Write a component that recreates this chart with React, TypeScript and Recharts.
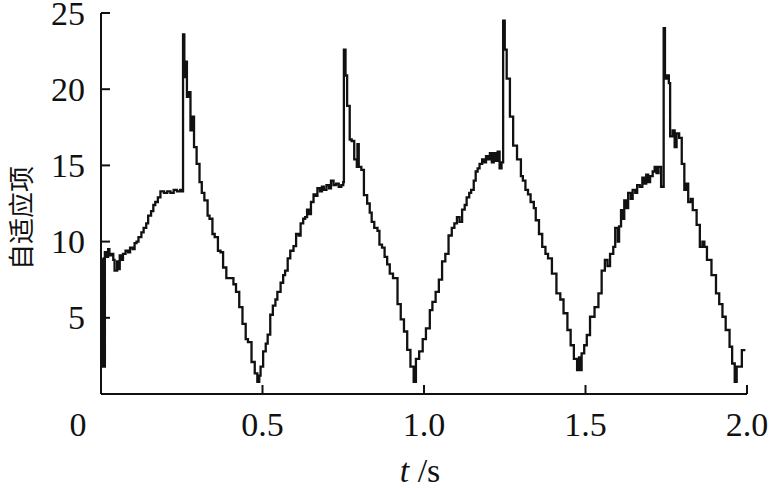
import { LineChart, Line, XAxis, YAxis } from 'recharts'

// sampled time (s)
const times = [
  0.005, 0.006, 0.012, 0.018, 0.022, 0.026, 0.032, 0.038, 0.042, 0.05, 0.054, 0.058, 0.064, 0.068, 0.076, 0.084,
  0.09, 0.098, 0.104, 0.11, 0.116, 0.125, 0.132, 0.14, 0.146, 0.155, 0.162, 0.168, 0.176, 0.184, 0.195, 0.205,
  0.215, 0.225, 0.235, 0.245, 0.25, 0.254, 0.258, 0.262, 0.266, 0.272, 0.277, 0.282, 0.288, 0.296, 0.305, 0.312,
  0.32, 0.33, 0.336, 0.345, 0.352, 0.362, 0.37, 0.378, 0.388, 0.4, 0.41, 0.418, 0.428, 0.438, 0.448, 0.455,
  0.466, 0.476, 0.484, 0.49, 0.494, 0.502, 0.51, 0.516, 0.524, 0.532, 0.54, 0.546, 0.556, 0.564, 0.57, 0.578,
  0.586, 0.596, 0.604, 0.612, 0.618, 0.626, 0.632, 0.638, 0.644, 0.65, 0.658, 0.664, 0.67, 0.678, 0.684, 0.69,
  0.698, 0.706, 0.712, 0.72, 0.728, 0.736, 0.744, 0.75, 0.752, 0.757, 0.762, 0.77, 0.776, 0.784, 0.792, 0.794,
  0.798, 0.806, 0.814, 0.824, 0.832, 0.838, 0.846, 0.856, 0.862, 0.87, 0.878, 0.886, 0.894, 0.904, 0.918, 0.928,
  0.938, 0.948, 0.958, 0.968, 0.975, 0.985, 0.996, 1.006, 1.018, 1.026, 1.036, 1.046, 1.056, 1.066, 1.076, 1.086,
  1.094, 1.102, 1.11, 1.118, 1.126, 1.132, 1.14, 1.146, 1.154, 1.16, 1.166, 1.172, 1.18, 1.186, 1.192, 1.198,
  1.204, 1.21, 1.216, 1.222, 1.228, 1.234, 1.24, 1.245, 1.25, 1.256, 1.266, 1.276, 1.288, 1.3, 1.306, 1.314,
  1.322, 1.33, 1.34, 1.346, 1.356, 1.366, 1.376, 1.384, 1.396, 1.41, 1.422, 1.432, 1.444, 1.454, 1.464, 1.474,
  1.48, 1.484, 1.488, 1.496, 1.504, 1.514, 1.528, 1.54, 1.55, 1.56, 1.568, 1.576, 1.586, 1.592, 1.6, 1.604,
  1.61, 1.616, 1.62, 1.626, 1.632, 1.64, 1.646, 1.654, 1.66, 1.668, 1.676, 1.682, 1.688, 1.694, 1.7, 1.708,
  1.714, 1.72, 1.726, 1.734, 1.742, 1.746, 1.752, 1.758, 1.762, 1.77, 1.776, 1.782, 1.79, 1.798, 1.806, 1.812,
  1.818, 1.826, 1.832, 1.844, 1.854, 1.862, 1.868, 1.876, 1.89, 1.904, 1.914, 1.924, 1.934, 1.946, 1.954, 1.962,
  1.968, 1.984, 1.995,
]

// adaptive term
const values = [
  8.9, 1.8, 9.3, 9.0, 9.5, 9.1, 9.2, 8.8, 8.1, 8.7, 8.2, 9.1, 8.8, 9.2, 9.4, 9.3,
  9.6, 9.5, 9.9, 10.0, 10.3, 10.6, 10.9, 11.2, 11.7, 12.0, 12.4, 12.6, 12.9, 13.3, 13.2, 13.3,
  13.2, 13.4, 13.3, 13.4, 13.3, 23.6, 20.8, 21.8, 19.5, 19.8, 17.3, 18.2, 16.2, 15.1, 13.9, 13.2,
  12.7, 11.7, 11.5, 10.5, 10.3, 9.4, 9.3, 8.3, 7.6, 7.6, 7.2, 6.7, 5.7, 4.6, 3.6, 3.4,
  2.1, 1.35, 0.8, 1.2, 1.8, 2.8, 3.3, 3.9, 5.2, 5.8, 6.2, 6.7, 7.3, 7.8, 8.1, 8.9,
  9.4, 9.7, 10.5, 10.4, 11.2, 11.5, 11.6, 12.1, 11.8, 12.6, 13.1, 13.0, 13.5, 13.3, 13.6, 13.4,
  13.7, 13.5, 14.0, 13.7, 13.8, 13.6, 13.7, 13.9, 22.6, 20.9, 18.9, 16.7, 16.6, 15.4, 14.9, 16.4,
  14.9, 14.7, 13.05, 12.5, 11.9, 11.3, 10.9, 10.7, 9.8, 9.6, 9.0, 8.5, 7.9, 7.6, 5.9, 4.9,
  4.1, 2.9, 1.8, 0.8, 2.3, 2.8, 3.6, 4.3, 5.5, 6.05, 6.7, 7.5, 8.7, 9.2, 10.4, 10.9,
  11.2, 11.6, 11.3, 12.1, 12.4, 12.9, 13.2, 13.4, 14.0, 14.6, 14.8, 15.1, 15.4, 15.2, 15.6, 15.4,
  15.8, 15.2, 15.8, 15.3, 15.9, 14.8, 15.2, 24.5, 22.6, 20.7, 18.2, 16.3, 15.4, 14.3, 14.0, 13.4,
  13.1, 12.6, 12.2, 11.4, 10.5, 9.65, 9.2, 8.9, 7.9, 6.6, 6.2, 5.3, 4.2, 3.2, 2.3, 1.57,
  2.4, 1.57, 2.66, 3.2, 3.87, 5.07, 5.7, 6.6, 8.1, 8.8, 8.4, 9.2, 9.65, 10.9, 10.0, 11.0,
  12.07, 11.5, 12.7, 12.2, 13.2, 12.8, 13.4, 13.2, 13.7, 13.6, 14.2, 13.8, 14.4, 13.9, 14.3, 14.6,
  14.9, 14.5, 14.9, 13.6, 24.0, 20.7, 20.9, 20.4, 16.9, 17.3, 16.2, 17.1, 16.8, 15.1, 13.4, 13.8,
  12.6, 12.8, 12.07, 11.1, 9.65, 10.0, 9.65, 8.8, 7.8, 6.6, 5.9, 5.07, 4.2, 3.1, 2.0, 0.8,
  1.8, 2.88, 2.88,
]

const xTicks = [0, 0.5, 1, 1.5, 2]
const yTicks = [5, 10, 15, 20, 25]

const data = times.map((t, i) => ({ t, v: values[i] }))

const FONT = "'Liberation Serif', 'Times New Roman', serif"
const CJK = "'Noto Sans CJK SC', sans-serif"

function XTick(props: any) {
  const { x, y, payload } = props
  const v = payload.value
  const label = v === 0 ? '0' : v.toFixed(1)
  return (
    <g>
      {v !== 0 && <line x1={x} y1={y} x2={x} y2={y - 9} stroke="#111" strokeWidth={2} />}
      <text x={v === 0 ? x - 23 : x} y={y + 42} textAnchor="middle" fontFamily={FONT} fontSize={34} fill="#111">
        {label}
      </text>
    </g>
  )
}

function YTick(props: any) {
  const { x, y, payload } = props
  return (
    <g>
      <line x1={x} y1={y} x2={x + 9} y2={y} stroke="#111" strokeWidth={2} />
      <text x={x - 16} y={y + 11.5} textAnchor="end" fontFamily={FONT} fontSize={34} fill="#111">
        {payload.value}
      </text>
    </g>
  )
}

export default function App() {
  return (
    <div style={{ position: 'absolute', left: 0, top: 0, width: 771, height: 488, background: '#fff' }}>
      <LineChart width={771} height={488} data={data} margin={{ top: 13, right: 24, bottom: 0, left: 0 }}>
        <XAxis
          dataKey="t"
          type="number"
          domain={[0, 2]}
          ticks={xTicks}
          interval={0}
          height={94}
          tickSize={0}
          tickMargin={0}
          tickLine={false}
          axisLine={{ stroke: '#111', strokeWidth: 2 }}
          tick={<XTick />}
        />
        <YAxis
          type="number"
          domain={[0, 25]}
          ticks={yTicks}
          interval={0}
          width={101}
          tickSize={0}
          tickMargin={0}
          tickLine={false}
          axisLine={{ stroke: '#111', strokeWidth: 2 }}
          tick={<YTick />}
        />
        <Line
          dataKey="v"
          type="stepAfter"
          stroke="#111"
          strokeWidth={2.3}
          dot={false}
          isAnimationActive={false}
        />
      </LineChart>
      <svg width={771} height={488} style={{ position: 'absolute', left: 0, top: 0, pointerEvents: 'none' }}>
        <text
          x={0}
          y={0}
          transform="translate(31 218) rotate(-90)"
          textAnchor="middle"
          fontFamily={CJK}
          fontSize={26}
          fill="#111"
        >
          自适应项
        </text>
        <text x={420} y={482} textAnchor="middle" fontFamily={FONT} fontSize={34} fill="#111">
          <tspan fontStyle="italic">t</tspan>
          <tspan> /s</tspan>
        </text>
      </svg>
    </div>
  )
}
